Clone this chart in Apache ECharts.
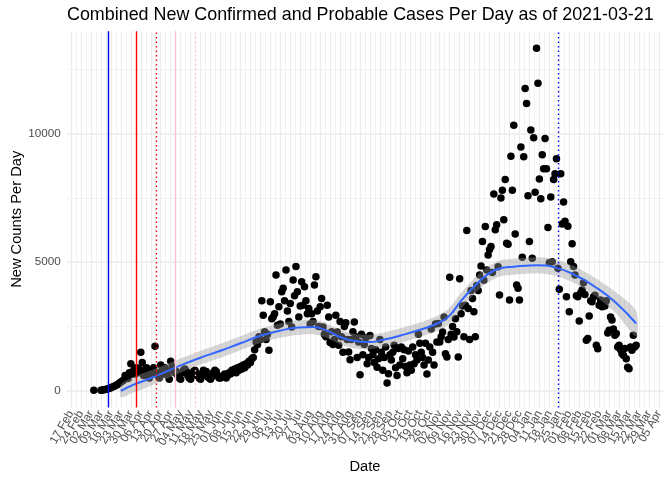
<!DOCTYPE html>
<html>
<head>
<meta charset="utf-8">
<script src="https://cdn.jsdelivr.net/npm/echarts@6/dist/echarts.min.js"></script>
<style>
  html, body { margin: 0; padding: 0; background: #fff; }
  #chart { width: 672px; height: 480px; }
</style>
</head>
<body>
<div id="chart"></div>
<script>
// weekly break labels on the date axis
const tickWeeks = [
  '2020-02-17', '2020-02-24', '2020-03-02', '2020-03-09', '2020-03-16', '2020-03-23', '2020-03-30',
  '2020-04-06', '2020-04-13', '2020-04-20', '2020-04-27', '2020-05-04', '2020-05-11', '2020-05-18',
  '2020-05-25', '2020-06-01', '2020-06-08', '2020-06-15', '2020-06-22', '2020-06-29', '2020-07-06',
  '2020-07-13', '2020-07-20', '2020-07-27', '2020-08-03', '2020-08-10', '2020-08-17', '2020-08-24',
  '2020-08-31', '2020-09-07', '2020-09-14', '2020-09-21', '2020-09-28', '2020-10-05', '2020-10-12',
  '2020-10-19', '2020-10-26', '2020-11-02', '2020-11-09', '2020-11-16', '2020-11-23', '2020-11-30',
  '2020-12-07', '2020-12-14', '2020-12-21', '2020-12-28', '2021-01-04', '2021-01-11', '2021-01-18',
  '2021-01-25', '2021-02-01', '2021-02-08', '2021-02-15', '2021-02-22', '2021-03-01', '2021-03-08',
  '2021-03-15', '2021-03-22', '2021-03-29', '2021-04-05'
];
const yTicks = [0, 5000, 10000];
const yMinorTicks = [2500, 7500, 12500];

// vertical reference lines
const refDates = ['2020-03-14', '2020-04-03', '2020-04-17', '2020-04-30', '2020-05-14', '2021-01-24'];
const refColors = ['#0000FF', '#FF0000', '#FF0000', '#FFC0CB', '#FFC0CB', '#0000FF'];
const refDotted = [false, false, true, false, true, true];

// daily new cases, one array per month (null = no report)
const casesMar2020 = [20, null, null, null, null, 20, 30, 40, 50, 60, 80, 100, 120, 150, 170, 200,
  230, 260, 300, 340, 380, 420, 600, 530, 480, 700, 1050, 650];
const casesApr2020 = [800, 650, 900, 700, 850, 1500, 1100, 600, 750, 900, 700, 500, 650, 800, 900,
  1730, 700, 600, 500, 1000, 800, 650, 900, 750, 600, 450, 1150, 950, 800, 700];
const casesMay2020 = [750, 600, 500, 450, 700, 800, 850, 750, 600, 500, 450, 650, 750, 800, 700, 550,
  500, 450, 600, 800, 700, 750, 550, 500, 450, 550, 700, 800, 750, 600, 500];
const casesJun2020 = [500, 550, 600, 650, 500, 600, 700, 650, 800, 750, 850, 700, 900, 800, 950, 850,
  1000, 900, 1050, 1000, 1150, 1100, 1250, 1300, 1600, 1900, 1800, 2100, 2000, 3500];
const casesJul2020 = [2940, 2300, 2000, 2200, 1574, 3460, 2800, 2875, 3000, 4500, 2550, 3265, 2600,
  3850, 3984, 3500, 4700, 3100, 2700, 3398, 2484, 4310, 3700, 4830, 3850, 2875, 3300, 4242, 3330,
  4047, 3500];
const casesAug2020 = [3000, 3203, 2600, 3000, 2700, 4113, 4437, 3100, 2500, 3266, 3594, 2484, 2200,
  2100, 3330, 2875, 1875, 2300, 1800, 2000, 2940, 2290, 1770, 2700, 2100, 1500, 2500, 2650, 2000,
  1508, 1210];
const casesSep2020 = [2000, 2300, 2680, 2100, 1300, 1900, 625, 2200, 1400, 1800, 2050, 1055, 1300,
  2150, 1650, 1400, 1100, 1600, 920, 1250, 2000, 1500, 800, 1300, 1700, 300, 660, 1400, 1200, 1500];
const casesOct2020 = [1770, 900, 600, 1650, 1000, 1700, 1250, 1600, 950, 700, 1550, 1000, 800, 1700,
  1050, 1400, 1200, 2200, 1850, 1500, 1300, 1000, 1850, 650, 1200, 1700, 2400, 1500, 1000, 2600, 1900];
const casesNov2020 = [2617, 1900, 2100, 2290, 2875, 1445, 1313, 2000, 4414, 2200, 2500, 2094, 2800,
  2300, 1313, 4360, 3000, 3300, 2100, 3330, 6235, 3200, 2000, 3900, 3594, 3070, 2100, 4100, 3900, 4500];
const casesDec2020 = [4855, 5805, 4300, 6390, 4700, 5285, 5500, 5610, 4600, 7656, 6262, 6457, 4828,
  3723, 7500, 7797, 6652, 8215, 5742, 5700, 3527, 9125, 7797, 10324, 6094, 4113, 3984, 3527, 9477,
  5195, 9101];
const casesJan2021 = [11758, 11172, 7590, 5805, 10141, 5156, 9844, 7719, 13320, 11965, 8242, 7473,
  9180, 8633, 9816, 8633, 6352, 4984, 7539, 5023, 8215, 8437, 9023, 4766, 3945, 8437, 6484, 7343,
  6590, 3656, 6400];
const casesFeb2021 = [3070, 5020, 5715, 4830, 4504, 3700, 3656, 2719, 3800, 3918, 4204, 3750, 1965,
  2030, 2914, 3500, 3460, 3650, 3720, 1770, 1640, 3330, 3530, 3270, 3400, 3300, 3500, 2250];
const casesMar2021 = [2355, 2875, 2750, 2400, 2160, 2227, 1700, 1770, 1600, 1450, 1380, 1650, 1250,
  920, 860, 1700, 1574, 2160, 1700, 1770];

// loess smooth, with half width of its band
const smoothDates = ['2020-03-23', '2020-04-01', '2020-04-12', '2020-04-24', '2020-05-07', '2020-05-19',
  '2020-06-01', '2020-06-15', '2020-06-29', '2020-07-12', '2020-07-26', '2020-08-05', '2020-08-14',
  '2020-08-24', '2020-09-03', '2020-09-13', '2020-09-24', '2020-10-06', '2020-10-18', '2020-10-30',
  '2020-11-08', '2020-11-17', '2020-11-26', '2020-12-05', '2020-12-14', '2020-12-24', '2021-01-10',
  '2021-01-22', '2021-02-05', '2021-02-19', '2021-03-05', '2021-03-20'];
const smoothValues = [0, 240, 470, 750, 1055, 1310, 1560, 1850, 2140, 2330, 2460, 2480, 2360, 2094,
  1938, 1895, 1992, 2160, 2355, 2590, 2875, 3500, 4047, 4500, 4760, 4828, 4883, 4800, 4504, 4047,
  3461, 2617];
const smoothHalf = [250, 300, 300, 280, 270, 270, 270, 270, 280, 280, 280, 280, 280, 280, 280, 280,
  280, 280, 280, 290, 300, 310, 310, 310, 310, 310, 310, 320, 330, 350, 400, 500];

const DAY = 86400000;
const toTime = s => Date.parse(s + 'T00:00:00Z');

const monthBlocks = [
  ['2020-03-04', casesMar2020], ['2020-04-01', casesApr2020], ['2020-05-01', casesMay2020],
  ['2020-06-01', casesJun2020], ['2020-07-01', casesJul2020], ['2020-08-01', casesAug2020],
  ['2020-09-01', casesSep2020], ['2020-10-01', casesOct2020], ['2020-11-01', casesNov2020],
  ['2020-12-01', casesDec2020], ['2021-01-01', casesJan2021], ['2021-02-01', casesFeb2021],
  ['2021-03-01', casesMar2021]
];

const points = [];
monthBlocks.forEach(([start, vals]) => {
  const t0 = toTime(start);
  vals.forEach((v, i) => {
    if (v != null) points.push([t0 + i * DAY, v]);
  });
});

// ggplot style 5% expansion of the data range
const tFirst = points[0][0];
const tLast = points[points.length - 1][0];
const tSpan = tLast - tFirst;
const xMin = tFirst - 0.05 * tSpan;
const xMax = tLast + 0.05 * tSpan;
const allVals = points.map(p => p[1]);
const vLo = Math.min(...allVals), vHi = Math.max(...allVals);
const yMin = vLo - 0.05 * (vHi - vLo);
const yMax = vHi + 0.05 * (vHi - vLo);

const tickTimes = tickWeeks.map(toTime);
const minorTimes = tickTimes.slice(1).map((t, i) => (t + tickTimes[i]) / 2);

const bandData = smoothDates.map((d, i) => [toTime(d), smoothValues[i] - smoothHalf[i], smoothValues[i] + smoothHalf[i]]);
const smoothLine = smoothDates.map((d, i) => [toTime(d), smoothValues[i]]);

const gridLines = [];
minorTimes.forEach(t => gridLines.push({ xAxis: t, lineStyle: { color: '#EFEFEF', width: 0.8, type: 'solid' } }));
tickTimes.forEach(t => gridLines.push({ xAxis: t, lineStyle: { color: '#EBEBEB', width: 1.1, type: 'solid' } }));
yMinorTicks.forEach(v => gridLines.push({ yAxis: v, lineStyle: { color: '#EFEFEF', width: 0.9, type: 'solid' } }));
yTicks.forEach(v => gridLines.push({ yAxis: v, lineStyle: { color: '#EBEBEB', width: 1.6, type: 'solid' } }));

const refLines = refDates.map((d, i) => ({
  xAxis: toTime(d),
  lineStyle: { color: refColors[i], width: 1.4, type: refDotted[i] ? [1.5, 3] : 'solid' }
}));

const MONTHS = ['Jan', 'Feb', 'Mar', 'Apr', 'May', 'Jun', 'Jul', 'Aug', 'Sep', 'Oct', 'Nov', 'Dec'];
const tickSet = new Set(tickTimes);
const fmtDay = v => {
  if (!tickSet.has(v)) return '';
  const d = new Date(v);
  return String(d.getUTCDate()).padStart(2, '0') + ' ' + MONTHS[d.getUTCMonth()];
};

// band polygon: upper edge left to right, lower edge back
function renderBand(params, api) {
  if (params.dataIndex !== 0) return null;
  const upper = bandData.map(p => api.coord([p[0], p[2]]));
  const lower = bandData.map(p => api.coord([p[0], p[1]])).reverse();
  return {
    type: 'polygon',
    shape: { points: upper.concat(lower), smooth: 0.25 },
    style: { fill: '#999999', opacity: 0.4 }
  };
}

const FONT = '"Liberation Sans", Arial, sans-serif';

const chart = echarts.init(document.getElementById('chart'), null, { renderer: 'canvas' });

chart.setOption({
  animation: false,
  backgroundColor: '#ffffff',
  title: {
    text: 'Combined New Confirmed and Probable Cases Per Day as of 2021-03-21',
    left: 67,
    top: 6,
    padding: 0,
    textStyle: { fontFamily: FONT, fontSize: 17.9, fontWeight: 'normal', color: '#000' }
  },
  grid: { left: 66.7, right: 8.7, top: 31.2, bottom: 72.6, containLabel: false, outerBoundsMode: 'none' },
  xAxis: {
    type: 'value',
    min: xMin,
    max: xMax,
    name: 'Date',
    nameLocation: 'middle',
    nameGap: 52,
    nameMoveOverlap: false,
    nameTextStyle: { fontFamily: FONT, fontSize: 14.7, color: '#000' },
    axisLine: { show: false },
    axisTick: { show: false },
    splitLine: { show: false },
    axisLabel: {
      // the axis limits are added as blank labels so no real label is dropped
      customValues: [xMin].concat(tickTimes, [xMax]),
      rotate: 60,
      margin: 4,
      showMinLabel: false,
      showMaxLabel: false,
      hideOverlap: false,
      fontFamily: FONT,
      fontSize: 11.7,
      color: '#4D4D4D',
      formatter: fmtDay
    }
  },
  yAxis: {
    type: 'value',
    min: yMin,
    max: yMax,
    name: 'New Counts Per Day',
    nameLocation: 'middle',
    nameGap: 42,
    nameMoveOverlap: false,
    nameTextStyle: { fontFamily: FONT, fontSize: 14.7, color: '#000' },
    axisLine: { show: false },
    axisTick: { show: false },
    splitLine: { show: false },
    axisLabel: {
      customValues: yTicks,
      margin: 6,
      fontFamily: FONT,
      fontSize: 11.7,
      color: '#4D4D4D',
      formatter: v => String(v)
    }
  },
  series: [
    {
      name: 'grid',
      type: 'line',
      data: [],
      z: 1,
      silent: true,
      markLine: { z: 1, silent: true, symbol: ['none', 'none'], label: { show: false }, animation: false, data: gridLines }
    },
    {
      name: 'cases',
      type: 'scatter',
      data: points,
      symbol: 'circle',
      symbolSize: 7.5,
      itemStyle: { color: '#000000', opacity: 1 },
      z: 2
    },
    {
      name: 'band',
      type: 'custom',
      data: bandData,
      encode: { x: 0, y: [1, 2] },
      renderItem: renderBand,
      silent: true,
      z: 3
    },
    {
      name: 'smooth',
      type: 'line',
      data: smoothLine,
      smooth: 0.5,
      showSymbol: false,
      lineStyle: { color: '#3366FF', width: 2 },
      z: 4
    },
    {
      name: 'refs',
      type: 'line',
      data: [],
      z: 6,
      silent: true,
      markLine: { z: 6, silent: true, symbol: ['none', 'none'], label: { show: false }, animation: false, data: refLines }
    }
  ]
});
</script>
</body>
</html>
